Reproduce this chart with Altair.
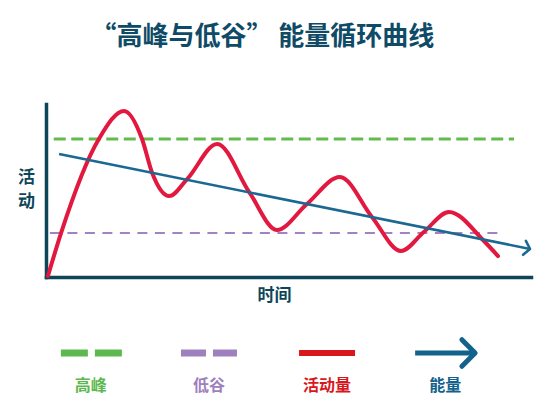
import altair as alt
import pandas as pd

# ---------------- data ----------------
time_x = [0.04, 0.31, 1.09, 1.61, 1.98, 2.19, 2.54, 2.91, 3.53, 4.19, 4.76,
          5.38, 6.06, 6.72, 7.32, 7.79, 8.31, 9.03, 9.32]
activity_y = [0.06, 2.54, 7.98, 9.60, 7.98, 6.01, 4.68, 5.66, 7.69, 4.91, 2.72,
              4.22, 5.78, 3.47, 1.50, 2.60, 3.76, 2.08, 1.21]

energy_x = [0.27, 9.98]
energy_y = [7.11, 1.62]

peak_level = 7.98
peak_x = [0.16, 9.65]
trough_level = 2.54
trough_x = [0.08, 9.44]

legend_names = ["高峰", "低谷", "活动量", "能量"]

# ---------------- styles ----------------
NAVY = "#0d4559"
TITLE_C = "#0f4b66"
RED = "#e2183f"
BLUE = "#1b6892"
GREEN = "#63bb4c"
PURPLE = "#a283c2"
legend_colors = ["#5cb84f", "#9d80bd", "#d8171d", "#13628b"]
FONT = "Noto Sans CJK SC"

curve_df = pd.DataFrame({"t": time_x, "a": activity_y})
energy_df = pd.DataFrame({"t": energy_x, "a": energy_y})
peak_df = pd.DataFrame({"t": [peak_x[0]], "t2": [peak_x[1]], "a": [peak_level]})
trough_df = pd.DataFrame({"t": [trough_x[0]], "t2": [trough_x[1]], "a": [trough_level]})
tip_df = energy_df.tail(1)

xscale = alt.Scale(domain=[0, 10], nice=False, zero=False)
yscale = alt.Scale(domain=[0, 10], nice=False, zero=False)

AX = dict(domainColor=NAVY, domainWidth=3.5, ticks=False, labels=False, grid=False,
          domainCap="square", titleColor=NAVY, titleFont=FONT, titleFontWeight="bold",
          titleFontSize=17)
X = alt.X("t:Q", scale=xscale,
          axis=alt.Axis(title="时间", titleX=228, titleAlign="center", titlePadding=10, **AX))
Y = alt.Y("a:Q", scale=yscale,
          axis=alt.Axis(title=["活", "动"], titleAngle=0, titleX=-20, titleY=73,
                        titleAlign="center", titleBaseline="middle", titleLineHeight=24, **AX))

peak_rule = alt.Chart(peak_df).mark_rule(color=GREEN, strokeWidth=3, strokeDash=[12, 5.5]).encode(
    x=X, x2="t2:Q", y=Y)
trough_rule = alt.Chart(trough_df).mark_rule(color=PURPLE, strokeWidth=2, strokeDash=[10, 7.5]).encode(
    x=X, x2="t2:Q", y=Y)
curve = alt.Chart(curve_df).mark_line(color=RED, strokeWidth=4, interpolate="monotone",
                                      strokeCap="round", strokeJoin="round").encode(x=X, y=Y)
energy = alt.Chart(energy_df).mark_line(color=BLUE, strokeWidth=2.6).encode(x=X, y=Y)
tip = alt.Chart(tip_df).mark_point(shape="M-0.8,-1L0,0L-0.8,1", size=200, filled=False,
                                   stroke=BLUE, strokeWidth=2.6, angle=11.4, opacity=1,
                                   strokeCap="round", strokeJoin="round").encode(x=X, y=Y)

main = alt.layer(peak_rule, trough_rule, curve, energy, tip).properties(width=485, height=173)

# ---------------- legend ----------------
leg_df = pd.DataFrame({"name": legend_names})
LX = alt.X("name:N", sort=legend_names, scale=alt.Scale(type="point", padding=0.38), axis=None)
base = alt.Chart(leg_df).encode(x=LX)

g_sym = base.transform_filter(alt.datum.name == "高峰").mark_rule(
    xOffset=-30, x2Offset=31, strokeDash=[27, 7], strokeWidth=7, color="#5cb84f").encode(
    x2="name:N", y=alt.value(18))
p_sym = base.transform_filter(alt.datum.name == "低谷").mark_rule(
    xOffset=-28, x2Offset=28, strokeDash=[25, 7], strokeWidth=7, color="#9d80bd").encode(
    x2="name:N", y=alt.value(18))
r_sym = base.transform_filter(alt.datum.name == "活动量").mark_rule(
    xOffset=-28, x2Offset=28, strokeWidth=6, color="#d8171d").encode(
    x2="name:N", y=alt.value(18))
b_sym = base.transform_filter(alt.datum.name == "能量").mark_rule(
    xOffset=-30, x2Offset=28, strokeWidth=5, color="#13628b").encode(
    x2="name:N", y=alt.value(18))
b_tip = base.transform_filter(alt.datum.name == "能量").mark_point(
    shape="M-1,-1L0,0L-1,1", size=700, filled=False, stroke="#13628b", strokeWidth=5,
    xOffset=30, opacity=1, strokeCap="round", strokeJoin="round").encode(y=alt.value(18))
labels = base.mark_text(fontSize=16, fontWeight="bold", font=FONT, baseline="middle").encode(
    text="name:N", y=alt.value(51),
    color=alt.Color("name:N", scale=alt.Scale(domain=legend_names, range=legend_colors), legend=None))

legend = alt.layer(g_sym, p_sym, r_sym, b_sym, b_tip, labels).properties(width=444, height=60)

chart = alt.vconcat(main, legend, spacing=32).properties(
    title=alt.TitleParams(text="“高峰与低谷” 能量循环曲线", fontSize=26, font=FONT,
                          fontWeight="bold", color=TITLE_C, anchor="middle", offset=54, dx=-14),
    padding={"left": 17, "top": 24, "right": 5, "bottom": 5},
).configure_view(stroke=None)

chart.save("out.html", embed_options={"renderer": "svg", "actions": False})
